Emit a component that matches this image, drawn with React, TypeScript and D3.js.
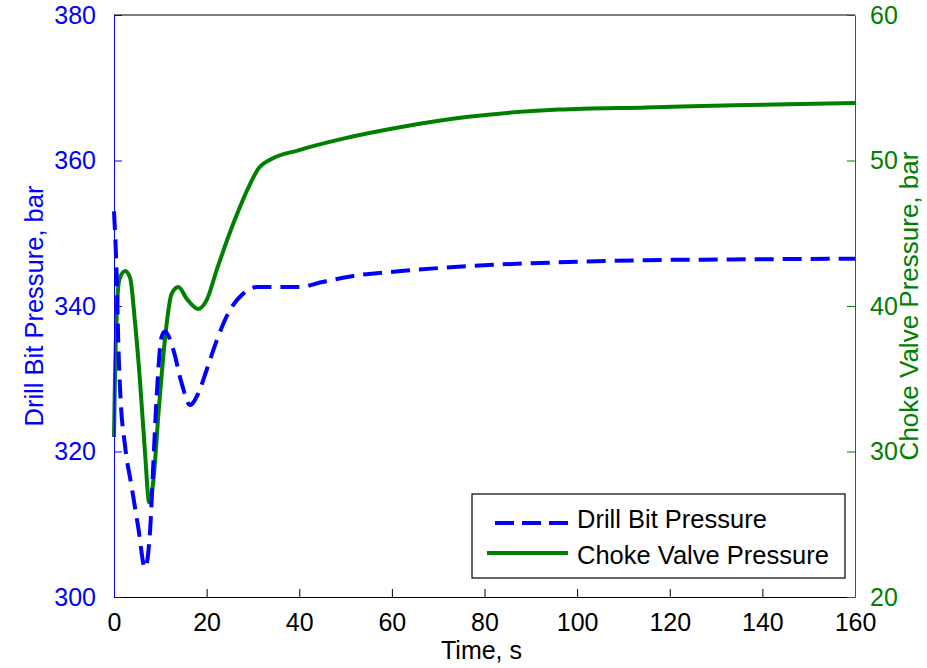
import React, { useEffect, useRef } from 'react';
import * as d3 from 'd3';

// Drill bit pressure (left axis, bar)
const drillTime = [0, 0.6, 0.95, 1.4, 2.4, 3.8, 5.2, 6.7, 7.8, 8.5, 9.2, 10.3, 11.0, 12.8, 14.6, 16.4, 18.2, 20, 22.2, 25.0, 27.9, 30.8, 34, 40, 45, 51.4, 62, 80, 96, 115, 134, 160];
const drillPressure = [353, 343.6, 334.4, 327.5, 320.7, 315.2, 309.7, 304.0, 309.2, 318.4, 327.5, 335.8, 336.5, 334.0, 329.4, 326.4, 328.0, 331.2, 335.3, 339.4, 341.7, 342.6, 342.6, 342.6, 343.3, 344.1, 344.8, 345.6, 346.0, 346.3, 346.4, 346.5];

// Choke valve pressure (right axis, bar)
const chokeTime = [0, 0.2, 0.6, 1.15, 2.4, 3.5, 4.5, 5.6, 6.7, 7.6, 8.5, 9.6, 11.0, 12.4, 13.9, 15.7, 18.2, 20, 22.2, 25.8, 29.4, 31.1, 34, 39.8, 49.5, 62, 76.5, 96, 115, 134, 160];
const chokePressure = [31, 34.9, 39.5, 41.8, 42.4, 41.9, 39.0, 34.9, 29.9, 26.5, 28.0, 32.6, 37.7, 40.8, 41.3, 40.5, 39.8, 40.4, 42.5, 45.7, 48.4, 49.4, 50.1, 50.7, 51.5, 52.3, 53.0, 53.5, 53.65, 53.8, 53.95];

const timeTicks = [0, 20, 40, 60, 80, 100, 120, 140, 160];
const drillTicks = [300, 320, 340, 360, 380];
const chokeTicks = [20, 30, 40, 50, 60];

const legendLabels = ['Drill Bit Pressure', 'Choke Valve Pressure'];

const BLUE = '#0000ff';
const GREEN = '#008000';
const FONT = '"Liberation Sans", Arial, sans-serif';

const App = () => {
  const ref = useRef<SVGSVGElement>(null);

  useEffect(() => {
    const W = 927;
    const H = 668;
    const m = { top: 15, right: 72, bottom: 71, left: 114 };
    const w = W - m.left - m.right;
    const h = H - m.top - m.bottom;

    const svg = d3.select(ref.current).attr('width', W).attr('height', H);
    svg.selectAll('*').remove();

    const g = svg.append('g').attr('transform', `translate(${m.left},${m.top})`);

    const x = d3.scaleLinear().domain([0, 160]).range([0, w]);
    const yL = d3.scaleLinear().domain([300, 380]).range([h, 0]);
    const yR = d3.scaleLinear().domain([20, 60]).range([h, 0]);

    g.append('rect').attr('width', w).attr('height', h).attr('fill', '#fff');

    // curves
    const drillLine = d3.line<number>()
      .x((_, i) => x(drillTime[i]))
      .y(d => yL(d))
      .curve(d3.curveMonotoneX);
    const chokeLine = d3.line<number>()
      .x((_, i) => x(chokeTime[i]))
      .y(d => yR(d))
      .curve(d3.curveMonotoneX);

    g.append('path')
      .datum(chokePressure)
      .attr('fill', 'none')
      .attr('stroke', GREEN)
      .attr('stroke-width', 4)
      .attr('d', chokeLine);

    g.append('path')
      .datum(drillPressure)
      .attr('fill', 'none')
      .attr('stroke', BLUE)
      .attr('stroke-width', 4)
      .attr('stroke-dasharray', '19 9')
      .attr('d', drillLine);

    // bottom axis
    const xAxis = g.append('g')
      .attr('transform', `translate(0,${h})`)
      .call(d3.axisBottom(x).tickValues(timeTicks).tickSizeInner(-8).tickSizeOuter(0).tickPadding(16));
    xAxis.select('.domain').attr('stroke', '#000');
    xAxis.selectAll('text').attr('font-size', 25).attr('font-family', FONT).attr('fill', '#000');

    // top border
    g.append('line').attr('x1', 0).attr('x2', w).attr('y1', 0).attr('y2', 0).attr('stroke', '#000');

    // left axis
    const left = g.append('g')
      .call(d3.axisLeft(yL).tickValues(drillTicks).tickSizeInner(-8).tickSizeOuter(0).tickPadding(18));
    left.select('.domain').attr('stroke', BLUE);
    left.selectAll('line').attr('stroke', BLUE);
    left.selectAll('text').attr('font-size', 25).attr('font-family', FONT).attr('fill', BLUE);

    // right axis
    const right = g.append('g')
      .attr('transform', `translate(${w},0)`)
      .call(d3.axisRight(yR).tickValues(chokeTicks).tickSizeInner(-8).tickSizeOuter(0).tickPadding(15));
    right.select('.domain').attr('stroke', GREEN);
    right.selectAll('line').attr('stroke', GREEN);
    right.selectAll('text').attr('font-size', 25).attr('font-family', FONT).attr('fill', GREEN);

    // axis titles
    svg.append('text')
      .attr('x', m.left + w / 2 - 3)
      .attr('y', 659)
      .attr('text-anchor', 'middle')
      .attr('font-size', 25)
      .attr('font-family', FONT)
      .text('Time, s');

    svg.append('text')
      .attr('transform', `translate(43,${m.top + h / 2}) rotate(-90)`)
      .attr('text-anchor', 'middle')
      .attr('font-size', 25.5)
      .attr('font-family', FONT)
      .attr('fill', BLUE)
      .text('Drill Bit Pressure, bar');

    svg.append('text')
      .attr('transform', `translate(918,${m.top + h / 2}) rotate(-90)`)
      .attr('text-anchor', 'middle')
      .attr('font-size', 26)
      .attr('font-family', FONT)
      .attr('fill', GREEN)
      .text('Choke Valve Pressure, bar');

    // legend
    const lg = svg.append('g').attr('transform', 'translate(472,494)');
    lg.append('rect')
      .attr('width', 373)
      .attr('height', 84)
      .attr('fill', '#fff')
      .attr('stroke', '#000')
      .attr('stroke-width', 1.2);
    lg.append('line')
      .attr('x1', 23).attr('x2', 96).attr('y1', 29).attr('y2', 29)
      .attr('stroke', BLUE).attr('stroke-width', 4).attr('stroke-dasharray', '19 8');
    lg.append('line')
      .attr('x1', 15).attr('x2', 96).attr('y1', 59).attr('y2', 59)
      .attr('stroke', GREEN).attr('stroke-width', 4);
    lg.selectAll('text.lbl')
      .data(legendLabels)
      .enter()
      .append('text')
      .attr('class', 'lbl')
      .attr('x', 105)
      .attr('y', (_, i) => 34 + i * 36)
      .attr('font-size', 25.5)
      .attr('font-family', FONT)
      .attr('fill', '#000')
      .text(d => d);
  }, []);

  return <svg ref={ref} style={{ position: 'absolute', left: 0, top: 0 }}></svg>;
};

export default App;
